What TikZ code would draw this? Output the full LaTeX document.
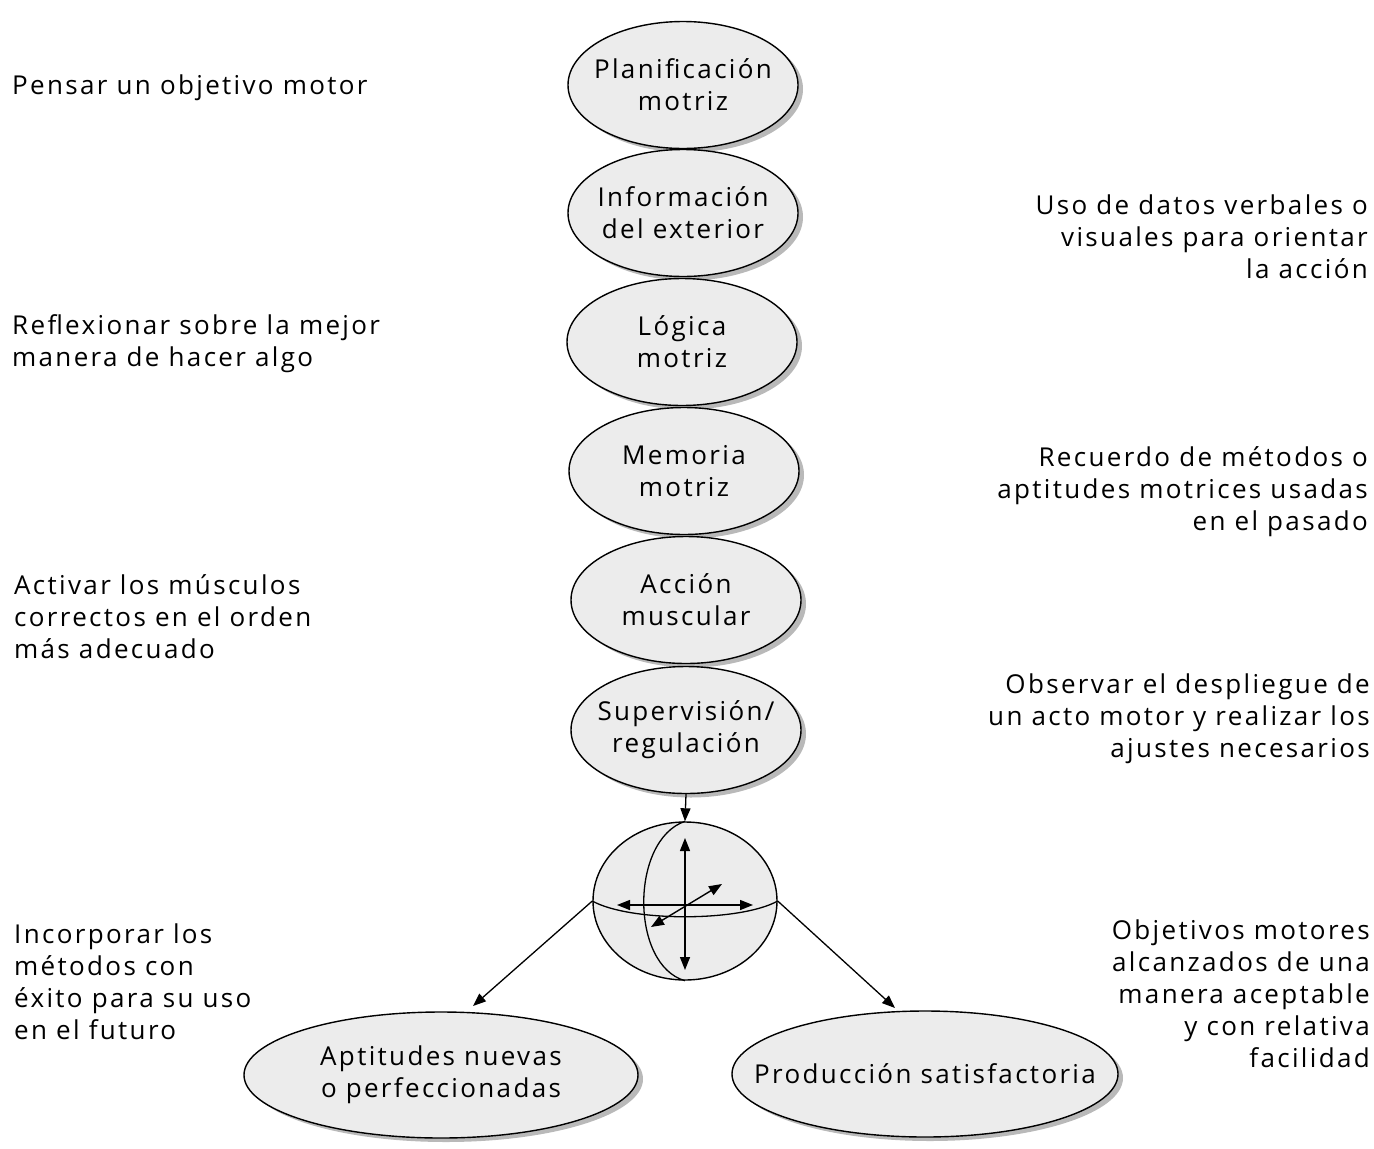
\documentclass[tikz,border=0pt]{standalone}
\usepackage{fontspec}
\setmainfont[LetterSpace=9]{Open Sans}
\usetikzlibrary{shapes.geometric,shadows,arrows.meta}
\begin{document}
\begin{tikzpicture}[x=1pt,y=-1pt,
  txt/.style={font=\fontsize{26}{32}\selectfont},
  blob/.style={ellipse, draw=black, line width=1.4pt, fill=gray!15,
    drop shadow={shadow xshift=5pt,shadow yshift=-4pt,fill=gray!55,opacity=1},
    inner sep=0pt},
  vblob/.style={blob, minimum width=230pt, minimum height=127pt},
  intext/.style={txt, inner sep=0pt, align=center},
  lnote/.style={txt, inner sep=0pt, anchor=west, align=left},
  rnote/.style={txt, inner sep=0pt, anchor=east, align=right},
  arr/.style={-{Triangle[length=13pt,width=10pt]}, line width=1.3pt},
  darr/.style={{Triangle[length=13pt,width=10pt]}-{Triangle[length=13pt,width=10pt]}, line width=1.4pt},
  thin/.style={line width=1.3pt}
]
\useasboundingbox (0,0) rectangle (1374,1149);

% vertical chain
\node[vblob] (plan) at (683,85)  {};
\node[intext] (planT) at (plan.center) {Planificación\\motriz};
\node[vblob] (info) at (683,213) {};
\node[intext] (infoT) at (info.center) {Información\\del exterior};
\node[vblob] (logi) at (682,342) {};
\node[intext] (logiT) at (logi.center) {Lógica\\motriz};
\node[vblob] (memo) at (684,471) {};
\node[intext] (memoT) at (memo.center) {Memoria\\motriz};
\node[vblob] (acci) at (686,600) {};
\node[intext] (acciT) at (acci.center) {Acción\\muscular};
\node[vblob] (supe) at (686,730) {};
\node[intext] (supeT) at (supe.center) {Supervisión/\\regulación};

% sphere
\node[ellipse, draw=black, line width=1.4pt, fill=gray!15, minimum width=184pt, minimum height=158pt, inner sep=0pt] (sph) at (685,901) {};
\draw[thin] (sph.west) .. controls (630,922) and (740,922) .. (sph.east);
\draw[thin] (sph.north) .. controls (630,840) and (630,965) .. (sph.south);
\coordinate (vt) at (685,838);
\coordinate (vb) at (685,970);
\coordinate (hl) at (617,905);
\coordinate (hr) at (753,905);
\coordinate (dl) at (651,927);
\coordinate (dr) at (722,884);
\draw[darr] (vt) -- (vb);
\draw[darr] (hl) -- (hr);
\draw[darr] (dl) -- (dr);

\draw[arr] (supe.south) -- (sph.north);

% bottom outcomes
\node[blob, minimum width=394pt, minimum height=126pt] (apti) at (441,1075) {};
\node[intext] (aptiT) at (apti.center) {Aptitudes nuevas\\o perfeccionadas};
\node[blob, minimum width=386pt, minimum height=126pt] (prod) at (925,1074) {};
\node[intext] (prodT) at (prod.center) {Producción satisfactoria};
\coordinate (aptin) at (473,1006);
\coordinate (prodin) at (895,1008);
\draw[arr] (sph.west) -- (aptin);
\draw[arr] (sph.east) -- (prodin);

% left notes
\node[lnote] (n1) at (12,88) {Pensar un objetivo motor};
\node[lnote] (n2) at (12,344) {Reflexionar sobre la mejor\\manera de hacer algo};
\node[lnote] (n3) at (14,617) {Activar los músculos\\correctos en el orden\\más adecuado};
\node[lnote] (n4) at (14,982) {Incorporar los\\métodos con\\éxito para su uso\\en el futuro};

% right notes
\node[rnote] (m1) at (1368,237) {Uso de datos verbales o\\visuales para orientar\\la acción};
\node[rnote] (m2) at (1368,492) {Recuerdo de métodos o\\aptitudes motrices usadas\\en el pasado};
\node[rnote] (m3) at (1370,719) {Observar el despliegue de\\un acto motor y realizar los\\ajustes necesarios};
\node[rnote] (m4) at (1370,994) {Objetivos motores\\alcanzados de una\\manera aceptable\\y con relativa\\facilidad};
\end{tikzpicture}
\end{document}
